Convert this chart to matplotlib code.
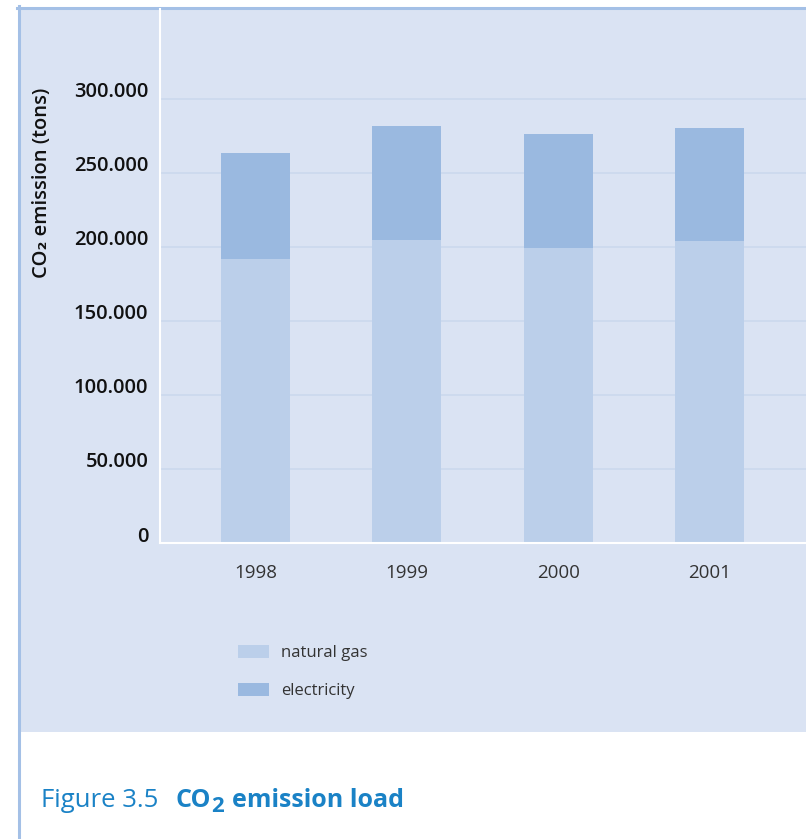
import numpy as np
import matplotlib
matplotlib.use("Agg")
import matplotlib.pyplot as plt
import matplotlib.transforms as mtransforms
from matplotlib.patches import Rectangle
from matplotlib.lines import Line2D

plt.rcParams['font.family'] = ['Open Sans', 'DejaVu Sans']

# CO2 emission per year, tons
years = ["1998", "1999", "2000", "2001"]
natural_gas = [192000, 205000, 199000, 204000]
electricity = [71500, 77000, 77500, 76500]
yticks = [0, 50000, 100000, 150000, 200000, 250000, 300000]
ytick_labels = ["0", "50.000", "100.000", "150.000", "200.000", "250.000", "300.000"]

W, H = 806, 839
fig = plt.figure(figsize=(W / 100, H / 100), dpi=100)
fig.patch.set_facecolor("white")

bg = "#dae3f3"
border = "#a4c0e6"
gas_col = "#bbcfea"
elec_col = "#9ab9e0"
cap_col = "#1a82c6"

# light blue panel behind the chart
fig.patches.append(Rectangle((19 / W, 1 - 732 / H), 1, (732 - 8) / H,
                             transform=fig.transFigure, facecolor=bg,
                             edgecolor="none", zorder=-2))
fig.lines.append(Line2D([18.5 / W, 18.5 / W], [0, 1 - 6 / H], transform=fig.transFigure,
                        color=border, linewidth=2.2, zorder=-1))
fig.lines.append(Line2D([17 / W, 1], [1 - 7.5 / H, 1 - 7.5 / H], transform=fig.transFigure,
                        color=border, linewidth=2.2, zorder=-1))

ax = fig.add_axes([160 / W, 1 - 543 / H, (W - 160) / W, (543 - 9) / H])
ax.set_facecolor("none")

x = np.arange(len(years))
bw = 0.456
ax.bar(x, natural_gas, bw, color=gas_col, label="natural gas", zorder=2)
ax.bar(x, electricity, bw, bottom=natural_gas, color=elec_col, label="electricity", zorder=2)

ax.set_xlim(-0.631, 3.638)
ax.set_ylim(0, 360800)

for y in yticks[1:]:
    ax.axhline(y, color="#cddaee", linewidth=1.4, zorder=1)

for s in ["top", "right"]:
    ax.spines[s].set_visible(False)
for s in ["left", "bottom"]:
    ax.spines[s].set_color("white")
    ax.spines[s].set_linewidth(1.5)
    ax.spines[s].set_zorder(3)

ax.set_yticks(yticks)
ax.set_yticklabels(ytick_labels, fontsize=14.5, fontweight="semibold", color="#111111")
ax.tick_params(axis="y", length=0, pad=8.5)
shift = mtransforms.ScaledTranslation(0, 9 / 100, fig.dpi_scale_trans)
for lab in ax.get_yticklabels():
    lab.set_transform(lab.get_transform() + shift)

ax.set_xticks(x)
ax.set_xticklabels(years, fontsize=13.5, color="#333333")
ax.tick_params(axis="x", length=0, pad=15)

fig.text(42 / W, 1 - 183 / H, "CO₂ emission (tons)", rotation=90, ha="center", va="center",
         fontsize=14.5, fontweight="semibold", color="#111111")

leg = fig.legend(loc="upper left", bbox_to_anchor=(238 / W, 1 - 645 / H),
                 frameon=False, fontsize=12, handlelength=1.86, handleheight=0.84,
                 handletextpad=0.72, labelspacing=1.3, borderpad=0, borderaxespad=0)
for t in leg.get_texts():
    t.set_color("#333333")

# caption below the panel, pieces chained left to right
fig.canvas.draw()
r = fig.canvas.get_renderer()
xpos = 41
yc = 1 - 807 / H
pieces = [("Figure 3.5", "normal", 18.5, 0, 17),
          ("CO", "bold", 18, 0, 0),
          ("2", "bold", 16, -5, 8),
          ("emission load", "bold", 18, 0, 0)]
for txt, wt, fs, dy, gap in pieces:
    t = fig.text(xpos / W, yc + dy / H, txt, fontsize=fs, fontweight=wt, color=cap_col,
                 ha="left", va="baseline")
    bb = t.get_window_extent(renderer=r)
    xpos += bb.width + gap

fig.savefig("out.png", dpi=100, facecolor="white")
